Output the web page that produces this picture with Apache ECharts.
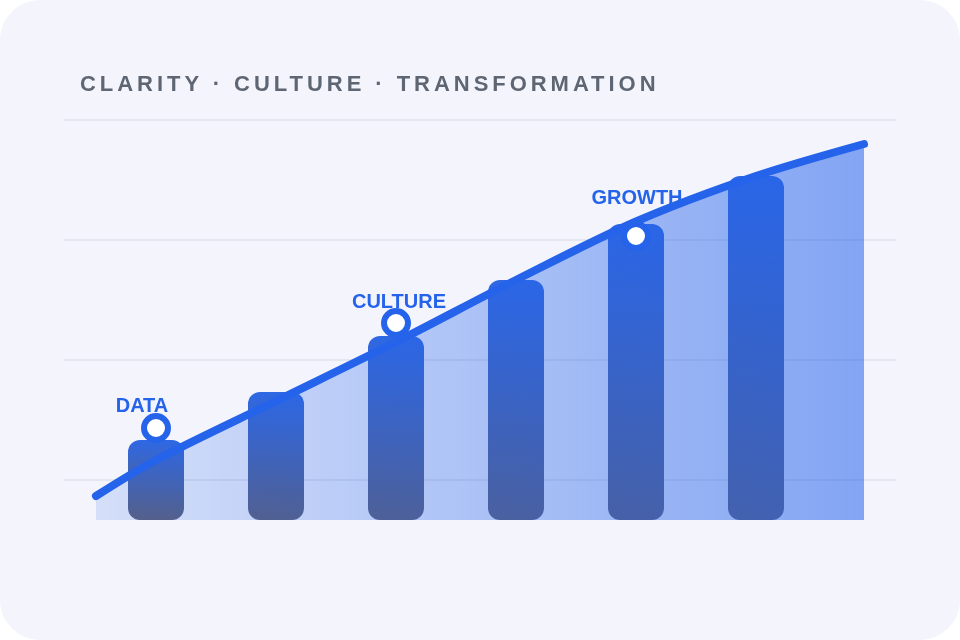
<!DOCTYPE html>
<html><head><meta charset="utf-8">
<style>
html,body{margin:0;padding:0;background:#fff;width:960px;height:640px;overflow:hidden}
#card{position:absolute;left:0;top:0;width:960px;height:640px;background:#f4f5fc;border-radius:40px}
#chart{position:absolute;left:0;top:0;width:960px;height:640px}
#title{position:absolute;left:80px;top:71px;font:bold 22px/26px "Liberation Sans",Arial,sans-serif;letter-spacing:3.96px;color:#5f6673;white-space:nowrap}
</style>
<script src="https://cdn.jsdelivr.net/npm/echarts@6/dist/echarts.min.js"></script>
</head><body>
<div id="card"></div><div id="chart"></div><div id="title">CLARITY · CULTURE · TRANSFORMATION</div>
<script>
const titleText = 'CLARITY · CULTURE · TRANSFORMATION';
const barSteps = [0, 1, 2, 3, 4, 5];
const barValues = [80, 128, 184, 240, 296, 344];
const curveSteps = [-0.5, 0, 1, 2, 3, 4, 5, 5.9];
const curveValues = [24, 60, 119, 178, 240, 298.5, 344, 376];
const markerSteps = [0, 2, 4];
const markerValues = [92, 197, 284];
const markerNames = ['DATA', 'CULTURE', 'GROWTH'];
const labelShifts = [[-14, -22], [3, -21], [1, -38]];

document.getElementById('title').textContent = titleText;
const pair = (xs, ys) => xs.map((x, i) => [x, ys[i]]);
const blue = '#2563eb';
const chart = echarts.init(document.getElementById('chart'), null, {renderer: 'canvas'});
chart.setOption({
  animation: false,
  backgroundColor: 'transparent',
  grid: {left: 64, right: 64, top: 120, bottom: 40},
  xAxis: {type: 'value', min: -92 / 120, max: 740 / 120, show: false},
  yAxis: {
    type: 'value', min: -80, max: 400, interval: 120,
    axisLine: {show: false}, axisTick: {show: false}, axisLabel: {show: false},
    splitLine: {show: true, showMinLine: false, lineStyle: {color: '#e4e6f0', width: 2}}
  },
  series: [
    {
      type: 'bar', z: 1, data: pair(barSteps, barValues), barWidth: 56,
      itemStyle: {
        borderRadius: 12,
        color: new echarts.graphic.LinearGradient(0, 0, 0, 1, [
          {offset: 0, color: '#2e68e4'},
          {offset: 1, color: '#5f5f76'}
        ])
      }
    },
    {
      type: 'line', z: 2, data: pair(curveSteps, curveValues), smooth: 0.3, symbol: 'none',
      lineStyle: {width: 0},
      areaStyle: {origin: 'auto', opacity: 1, color: new echarts.graphic.LinearGradient(0, 0, 1, 0, [
        {offset: 0, color: 'rgba(37,99,235,0.15)'},
        {offset: 1, color: 'rgba(37,99,235,0.55)'}
      ])}
    },
    {
      type: 'scatter', z: 3, data: pair(markerSteps, markerValues), symbolSize: 24,
      itemStyle: {color: '#ffffff', borderColor: blue, borderWidth: 6, opacity: 1},
      label: {
        show: true, position: 'inside', color: blue, fontWeight: 'bold', fontSize: 20,
        fontFamily: '"Liberation Sans", Arial, sans-serif',
        formatter: p => markerNames[p.dataIndex]
      },
      labelLayout: p => ({dx: labelShifts[p.dataIndex][0], dy: labelShifts[p.dataIndex][1]})
    },
    {
      type: 'line', z: 4, data: pair(curveSteps, curveValues), smooth: 0.3, symbol: 'none',
      lineStyle: {color: blue, width: 8, cap: 'round', join: 'round'}
    }
  ]
});
</script>
</body></html>
